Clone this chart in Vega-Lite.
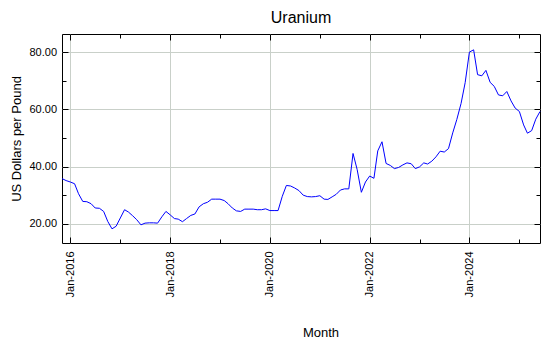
{
  "$schema": "https://vega.github.io/schema/vega-lite/v6.json",
  "width": 478,
  "height": 209,
  "autosize": "none",
  "padding": {"left": 62, "top": 34, "right": 10, "bottom": 107},
  "background": "white",
  "config": {
    "font": "Liberation Sans",
    "view": {"stroke": "black", "strokeWidth": 1}
  },
  "title": {
    "text": "Uranium",
    "fontSize": 16,
    "fontWeight": "normal",
    "color": "black",
    "font": "Liberation Sans",
    "baseline": "alphabetic",
    "offset": -5
  },
  "data": {
    "values": [
      {"month": "2015-11-01", "price": 35.8},
      {"month": "2015-12-01", "price": 35.1},
      {"month": "2016-01-01", "price": 34.6},
      {"month": "2016-02-01", "price": 34.0},
      {"month": "2016-03-01", "price": 30.5},
      {"month": "2016-04-01", "price": 27.8},
      {"month": "2016-05-01", "price": 27.7},
      {"month": "2016-06-01", "price": 27.0},
      {"month": "2016-07-01", "price": 25.5},
      {"month": "2016-08-01", "price": 25.4},
      {"month": "2016-09-01", "price": 24.3},
      {"month": "2016-10-01", "price": 20.8},
      {"month": "2016-11-01", "price": 18.2},
      {"month": "2016-12-01", "price": 19.1},
      {"month": "2017-01-01", "price": 22.0},
      {"month": "2017-02-01", "price": 24.9},
      {"month": "2017-03-01", "price": 24.1},
      {"month": "2017-04-01", "price": 22.8},
      {"month": "2017-05-01", "price": 21.4},
      {"month": "2017-06-01", "price": 19.6},
      {"month": "2017-07-01", "price": 20.2},
      {"month": "2017-08-01", "price": 20.3},
      {"month": "2017-09-01", "price": 20.3},
      {"month": "2017-10-01", "price": 20.2},
      {"month": "2017-11-01", "price": 22.4},
      {"month": "2017-12-01", "price": 24.3},
      {"month": "2018-01-01", "price": 23.1},
      {"month": "2018-02-01", "price": 21.8},
      {"month": "2018-03-01", "price": 21.6},
      {"month": "2018-04-01", "price": 20.7},
      {"month": "2018-05-01", "price": 21.8},
      {"month": "2018-06-01", "price": 22.9},
      {"month": "2018-07-01", "price": 23.4},
      {"month": "2018-08-01", "price": 25.9},
      {"month": "2018-09-01", "price": 27.0},
      {"month": "2018-10-01", "price": 27.5},
      {"month": "2018-11-01", "price": 28.6},
      {"month": "2018-12-01", "price": 28.6},
      {"month": "2019-01-01", "price": 28.6},
      {"month": "2019-02-01", "price": 28.1},
      {"month": "2019-03-01", "price": 27.0},
      {"month": "2019-04-01", "price": 25.5},
      {"month": "2019-05-01", "price": 24.5},
      {"month": "2019-06-01", "price": 24.3},
      {"month": "2019-07-01", "price": 25.1},
      {"month": "2019-08-01", "price": 25.1},
      {"month": "2019-09-01", "price": 25.1},
      {"month": "2019-10-01", "price": 24.9},
      {"month": "2019-11-01", "price": 24.9},
      {"month": "2019-12-01", "price": 25.2},
      {"month": "2020-01-01", "price": 24.6},
      {"month": "2020-02-01", "price": 24.6},
      {"month": "2020-03-01", "price": 24.6},
      {"month": "2020-04-01", "price": 29.6},
      {"month": "2020-05-01", "price": 33.4},
      {"month": "2020-06-01", "price": 33.2},
      {"month": "2020-07-01", "price": 32.5},
      {"month": "2020-08-01", "price": 31.6},
      {"month": "2020-09-01", "price": 30.0},
      {"month": "2020-10-01", "price": 29.5},
      {"month": "2020-11-01", "price": 29.4},
      {"month": "2020-12-01", "price": 29.5},
      {"month": "2021-01-01", "price": 29.8},
      {"month": "2021-02-01", "price": 28.6},
      {"month": "2021-03-01", "price": 28.5},
      {"month": "2021-04-01", "price": 29.4},
      {"month": "2021-05-01", "price": 30.3},
      {"month": "2021-06-01", "price": 31.8},
      {"month": "2021-07-01", "price": 32.2},
      {"month": "2021-08-01", "price": 32.2},
      {"month": "2021-09-01", "price": 44.6},
      {"month": "2021-10-01", "price": 39.0},
      {"month": "2021-11-01", "price": 31.0},
      {"month": "2021-12-01", "price": 34.6},
      {"month": "2022-01-01", "price": 36.7},
      {"month": "2022-02-01", "price": 35.9},
      {"month": "2022-03-01", "price": 45.5},
      {"month": "2022-04-01", "price": 48.7},
      {"month": "2022-05-01", "price": 41.1},
      {"month": "2022-06-01", "price": 40.4},
      {"month": "2022-07-01", "price": 39.3},
      {"month": "2022-08-01", "price": 39.7},
      {"month": "2022-09-01", "price": 40.6},
      {"month": "2022-10-01", "price": 41.3},
      {"month": "2022-11-01", "price": 41.0},
      {"month": "2022-12-01", "price": 39.3},
      {"month": "2023-01-01", "price": 39.9},
      {"month": "2023-02-01", "price": 41.3},
      {"month": "2023-03-01", "price": 40.9},
      {"month": "2023-04-01", "price": 41.9},
      {"month": "2023-05-01", "price": 43.4},
      {"month": "2023-06-01", "price": 45.4},
      {"month": "2023-07-01", "price": 45.1},
      {"month": "2023-08-01", "price": 46.3},
      {"month": "2023-09-01", "price": 51.8},
      {"month": "2023-10-01", "price": 56.5},
      {"month": "2023-11-01", "price": 62.1},
      {"month": "2023-12-01", "price": 69.4},
      {"month": "2024-01-01", "price": 80.1},
      {"month": "2024-02-01", "price": 80.9},
      {"month": "2024-03-01", "price": 72.2},
      {"month": "2024-04-01", "price": 71.8},
      {"month": "2024-05-01", "price": 73.7},
      {"month": "2024-06-01", "price": 69.5},
      {"month": "2024-07-01", "price": 68.1},
      {"month": "2024-08-01", "price": 65.1},
      {"month": "2024-09-01", "price": 64.8},
      {"month": "2024-10-01", "price": 66.3},
      {"month": "2024-11-01", "price": 63.0},
      {"month": "2024-12-01", "price": 60.5},
      {"month": "2025-01-01", "price": 59.3},
      {"month": "2025-02-01", "price": 54.6},
      {"month": "2025-03-01", "price": 51.7},
      {"month": "2025-04-01", "price": 52.6},
      {"month": "2025-05-01", "price": 56.6},
      {"month": "2025-06-01", "price": 59.3}
    ]
  },
  "layer": [
    {
      "mark": {"type": "line", "color": "#0000ff", "strokeWidth": 1},
      "encoding": {
        "x": {
          "field": "month",
          "type": "temporal",
          "scale": {
            "type": "utc",
            "domain": [
              {"year": 2015, "month": 11, "date": 1, "utc": true},
              {"year": 2025, "month": 6, "date": 1, "utc": true}
            ]
          },
          "axis": {
            "orient": "bottom",
            "values": [
              {"year": 2016, "month": 1, "date": 1, "utc": true},
              {"year": 2018, "month": 1, "date": 1, "utc": true},
              {"year": 2020, "month": 1, "date": 1, "utc": true},
              {"year": 2022, "month": 1, "date": 1, "utc": true},
              {"year": 2024, "month": 1, "date": 1, "utc": true}
            ],
            "labelExpr": "utcFormat(datum.value, '%b-%Y')",
            "labelAngle": -90,
            "labelAlign": "right",
            "labelBaseline": "middle",
            "labelFontSize": 11,
            "labelColor": "black",
            "labelPadding": 8,
            "labelOverlap": false,
            "labelFlush": false,
            "ticks": false,
            "domain": false,
            "grid": true,
            "gridColor": "#c9d0c9",
            "gridWidth": 1,
            "title": "Month",
            "titleFontSize": 13,
            "titleFontWeight": "normal",
            "titleColor": "black",
            "titleAlign": "center",
            "titleBaseline": "alphabetic",
            "titleX": 258.5,
            "titleY": 93.7
          }
        },
        "y": {
          "field": "price",
          "type": "quantitative",
          "scale": {"domain": [13.24, 86.44], "nice": false, "zero": false},
          "axis": {
            "orient": "left",
            "values": [20, 40, 60, 80],
            "format": ".2f",
            "labelFontSize": 11,
            "labelColor": "black",
            "labelPadding": 5.5,
            "labelBaseline": "middle",
            "ticks": false,
            "domain": false,
            "grid": true,
            "gridColor": "#c9d0c9",
            "gridWidth": 1,
            "title": "US Dollars per Pound",
            "titleFontSize": 13,
            "titleFontWeight": "normal",
            "titleColor": "black",
            "titleAngle": -90,
            "titleAlign": "center",
            "titleBaseline": "alphabetic",
            "titleX": -41.3,
            "titleY": 104.5
          }
        }
      }
    },
    {
      "mark": {"type": "line", "opacity": 0},
      "encoding": {
        "x": {
          "field": "month",
          "type": "temporal",
          "axis": {
            "orient": "bottom",
            "values": [
              {"year": 2016, "month": 1, "date": 1, "utc": true},
              {"year": 2017, "month": 1, "date": 1, "utc": true},
              {"year": 2018, "month": 1, "date": 1, "utc": true},
              {"year": 2019, "month": 1, "date": 1, "utc": true},
              {"year": 2020, "month": 1, "date": 1, "utc": true},
              {"year": 2021, "month": 1, "date": 1, "utc": true},
              {"year": 2022, "month": 1, "date": 1, "utc": true},
              {"year": 2023, "month": 1, "date": 1, "utc": true},
              {"year": 2024, "month": 1, "date": 1, "utc": true},
              {"year": 2025, "month": 1, "date": 1, "utc": true}
            ],
            "labels": false,
            "domain": false,
            "grid": false,
            "title": null,
            "tickColor": "black",
            "tickWidth": 1,
            "tickSize": {"condition": {"test": "utcyear(datum.value) % 2 == 0", "value": -6}, "value": -4}
          }
        },
        "y": {
          "field": "price",
          "type": "quantitative",
          "axis": {
            "orient": "left",
            "values": [20, 30, 40, 50, 60, 70, 80],
            "labels": false,
            "domain": false,
            "grid": false,
            "title": null,
            "tickColor": "black",
            "tickWidth": 1,
            "tickSize": {"condition": {"test": "datum.value % 20 == 0", "value": -6}, "value": -4}
          }
        }
      }
    },
    {
      "mark": {"type": "line", "opacity": 0},
      "encoding": {
        "x": {
          "field": "month",
          "type": "temporal",
          "axis": {
            "orient": "top",
            "values": [
              {"year": 2016, "month": 1, "date": 1, "utc": true},
              {"year": 2017, "month": 1, "date": 1, "utc": true},
              {"year": 2018, "month": 1, "date": 1, "utc": true},
              {"year": 2019, "month": 1, "date": 1, "utc": true},
              {"year": 2020, "month": 1, "date": 1, "utc": true},
              {"year": 2021, "month": 1, "date": 1, "utc": true},
              {"year": 2022, "month": 1, "date": 1, "utc": true},
              {"year": 2023, "month": 1, "date": 1, "utc": true},
              {"year": 2024, "month": 1, "date": 1, "utc": true},
              {"year": 2025, "month": 1, "date": 1, "utc": true}
            ],
            "labels": false,
            "domain": false,
            "grid": false,
            "title": null,
            "tickColor": "black",
            "tickWidth": 1,
            "tickSize": {"condition": {"test": "utcyear(datum.value) % 2 == 0", "value": -6}, "value": -4}
          }
        },
        "y": {
          "field": "price",
          "type": "quantitative",
          "axis": {
            "orient": "right",
            "values": [20, 30, 40, 50, 60, 70, 80],
            "labels": false,
            "domain": false,
            "grid": false,
            "title": null,
            "tickColor": "black",
            "tickWidth": 1,
            "tickSize": {"condition": {"test": "datum.value % 20 == 0", "value": -6}, "value": -4}
          }
        }
      }
    }
  ],
  "resolve": {"axis": {"x": "independent", "y": "independent"}}
}
